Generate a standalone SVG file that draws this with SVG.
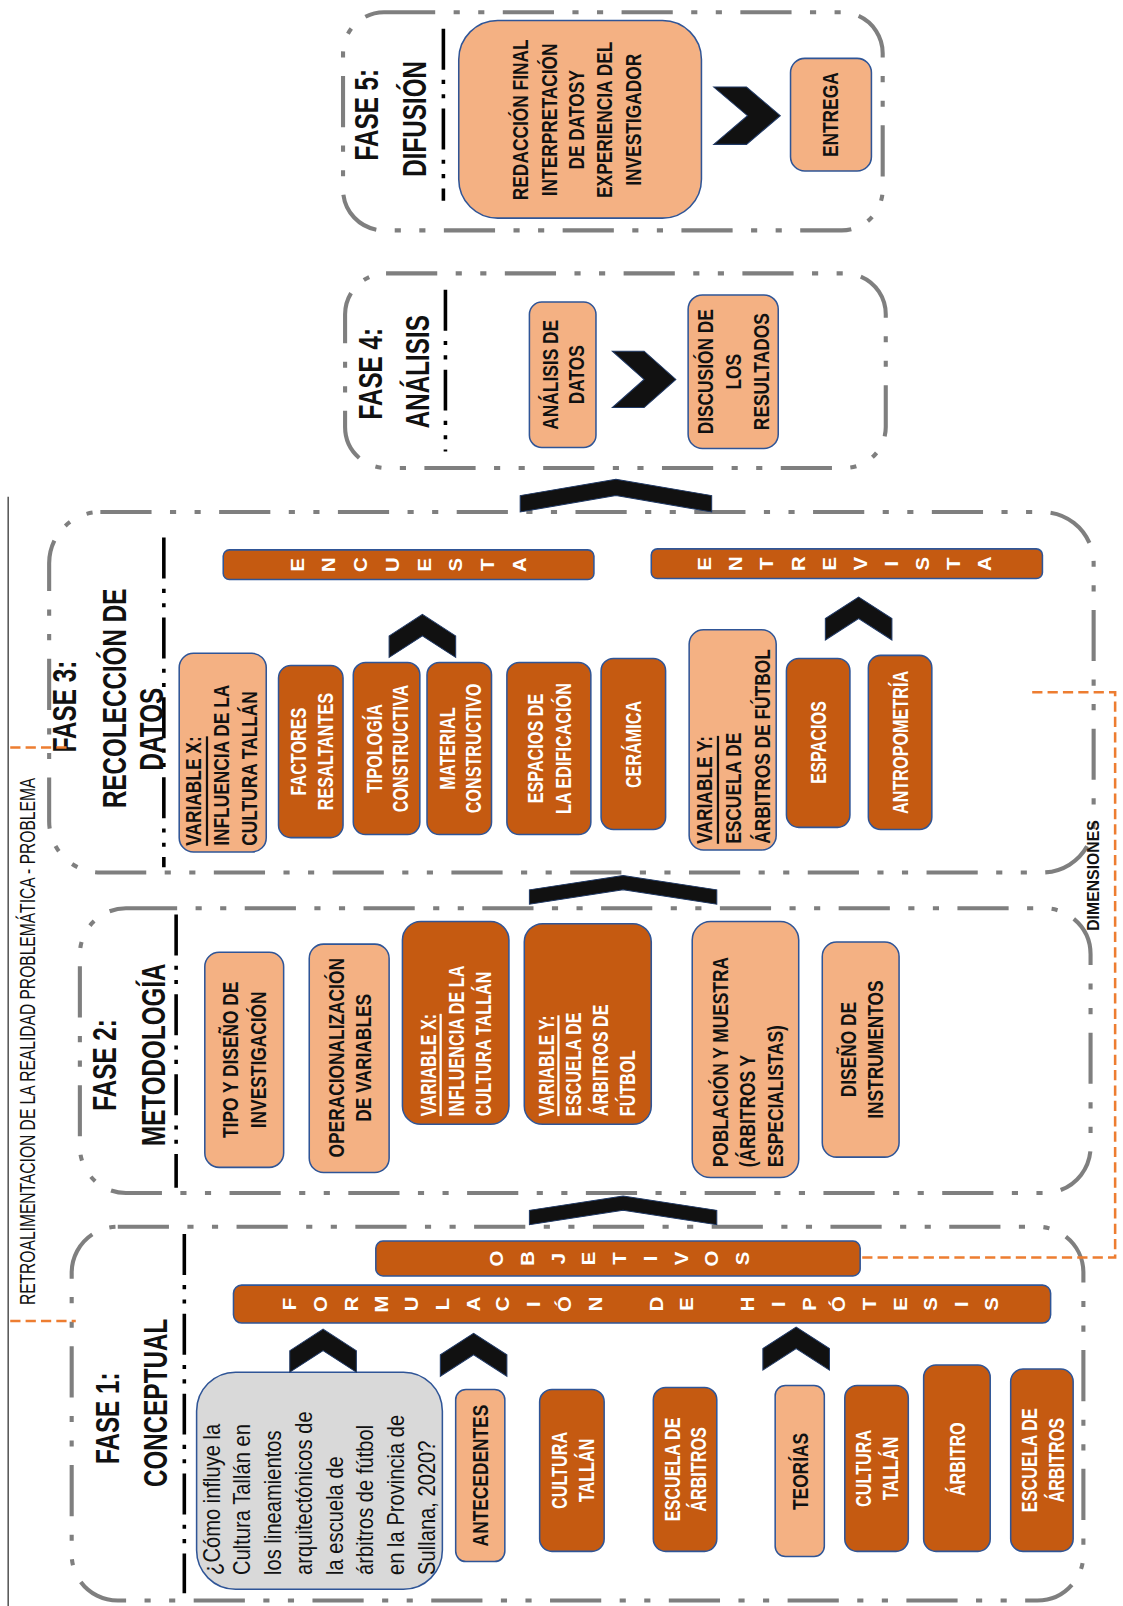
<svg xmlns="http://www.w3.org/2000/svg" width="1123" height="1606" viewBox="0 0 1123 1606">
<style>
text{font-family:"Liberation Sans",Arial,sans-serif}
.frame{fill:none;stroke:#7f7f7f;stroke-width:4;stroke-dasharray:50 18 6 18 6 18}
.div{fill:none;stroke:#000;stroke-width:3.5;stroke-dasharray:40 10 4 10 4 10}
.dk{fill:#C55A11;stroke:#2F5597;stroke-width:1.5}
.lt{fill:#F4B183;stroke:#2F5597;stroke-width:1.5}
.gy{fill:#D9D9D9;stroke:#2F5597;stroke-width:1.5}
.chev{fill:#111;stroke:#1F3864;stroke-width:1}
.od{fill:none;stroke:#ED7D31;stroke-width:2.5;stroke-dasharray:10 5}
.c{text-anchor:middle;dominant-baseline:central}
.s{text-anchor:start;dominant-baseline:central}
.lw{font-size:22px;fill:#fff;font-weight:bold}
.lb{font-size:22px;fill:#111;font-weight:bold}
.tt{font-size:32px;font-weight:bold;fill:#111}
.q{font-size:24px;fill:#111}
.ch{font-size:18px;fill:#fff;font-weight:bold}
.u{text-decoration:underline}
</style>
<g transform="scale(1.024)">

<g id="retroalimentacion">
<line x1="8" y1="485" x2="8" y2="1570" stroke="#555" stroke-width="1.5"/>
<text class="c" font-size="21" fill="#111" textLength="515" lengthAdjust="spacingAndGlyphs" transform="translate(27,1017) rotate(-90)">RETROALIMENTACION DE LA REALIDAD PROBLEMÁTICA - PROBLEMA</text>
</g>

<g id="fase5">
<rect class="frame" x="335" y="12" width="527" height="213" rx="40"/>
<line class="div" x1="433" y1="28" x2="433" y2="196"/>
<text class="tt c" transform="translate(358,112) rotate(-90) scale(.74,1)">FASE 5:</text>
<text class="tt c" transform="translate(405,116) rotate(-90) scale(.74,1)">DIFUSIÓN</text>
</g>
<g id="redaccion">
<rect class="lt" x="448" y="20" width="237" height="193" rx="38"/>
<text class="lb c" transform="translate(563,117) rotate(-90) scale(.77,1)"><tspan x="0" y="-55">REDACCIÓN FINAL</tspan><tspan x="0" y="-27">INTERPRETACIÓN</tspan><tspan x="0" y="0">DE DATOSY</tspan><tspan x="0" y="27">EXPERIENCIA DEL</tspan><tspan x="0" y="55">INVESTIGADOR</tspan></text>
</g>
<g id="entrega">
<rect class="lt" x="772" y="57" width="79" height="110" rx="14"/>
<text class="lb c" transform="translate(811,112) rotate(-90) scale(.77,1)">ENTREGA</text>
</g>

<g id="fase4">
<rect class="frame" x="337" y="267" width="528" height="190" rx="40"/>
<line class="div" x1="435" y1="283" x2="435" y2="441"/>
<text class="tt c" transform="translate(362,365) rotate(-90) scale(.74,1)">FASE 4:</text>
<text class="tt c" transform="translate(408,363) rotate(-90) scale(.74,1)">ANÁLISIS</text>
</g>
<g id="analisis">
<rect class="lt" x="517" y="295" width="65" height="142" rx="12"/>
<text class="lb c" transform="translate(550,366) rotate(-90) scale(.77,1)"><tspan x="0" y="-12.5">ANÁLISIS DE</tspan><tspan x="0" y="12.5">DATOS</tspan></text>
</g>
<g id="discusion">
<rect class="lt" x="672" y="288" width="88" height="150" rx="14"/>
<text class="lb c" transform="translate(716,363) rotate(-90) scale(.77,1)"><tspan x="0" y="-27">DISCUSIÓN DE</tspan><tspan x="0" y="0">LOS</tspan><tspan x="0" y="27">RESULTADOS</tspan></text>
</g>

<g id="fase3">
<rect class="frame" x="48" y="500" width="1020" height="352" rx="50"/>
<line class="div" x1="160" y1="525" x2="160" y2="847"/>
<text class="tt c" transform="translate(63,690) rotate(-90) scale(.74,1)">FASE 3:</text>
<text class="tt c" transform="translate(112,682) rotate(-90) scale(.74,1)">RECOLECCIÓN DE</text>
<text class="tt c" transform="translate(148,712) rotate(-90) scale(.74,1)">DATOS</text>
</g>
<g id="encuesta">
<rect class="dk" x="218" y="537" width="362" height="29" rx="6"/>
<text class="ch c" transform="translate(290,551.5) rotate(-90) scale(1.1,1)">E</text>
<text class="ch c" transform="translate(321,551.5) rotate(-90) scale(1.1,1)">N</text>
<text class="ch c" transform="translate(352,551.5) rotate(-90) scale(1.1,1)">C</text>
<text class="ch c" transform="translate(383,551.5) rotate(-90) scale(1.1,1)">U</text>
<text class="ch c" transform="translate(414,551.5) rotate(-90) scale(1.1,1)">E</text>
<text class="ch c" transform="translate(445,551.5) rotate(-90) scale(1.1,1)">S</text>
<text class="ch c" transform="translate(476,551.5) rotate(-90) scale(1.1,1)">T</text>
<text class="ch c" transform="translate(507,551.5) rotate(-90) scale(1.1,1)">A</text>
</g>
<g id="entrevista">
<rect class="dk" x="636" y="536" width="382" height="29" rx="6"/>
<text class="ch c" transform="translate(688,550.5) rotate(-90) scale(1.1,1)">E</text>
<text class="ch c" transform="translate(718.4,550.5) rotate(-90) scale(1.1,1)">N</text>
<text class="ch c" transform="translate(748.8,550.5) rotate(-90) scale(1.1,1)">T</text>
<text class="ch c" transform="translate(779.2,550.5) rotate(-90) scale(1.1,1)">R</text>
<text class="ch c" transform="translate(809.6,550.5) rotate(-90) scale(1.1,1)">E</text>
<text class="ch c" transform="translate(840,550.5) rotate(-90) scale(1.1,1)">V</text>
<text class="ch c" transform="translate(870.4,550.5) rotate(-90) scale(1.1,1)">I</text>
<text class="ch c" transform="translate(900.8,550.5) rotate(-90) scale(1.1,1)">S</text>
<text class="ch c" transform="translate(931.2,550.5) rotate(-90) scale(1.1,1)">T</text>
<text class="ch c" transform="translate(961.6,550.5) rotate(-90) scale(1.1,1)">A</text>
</g>
<g id="f3-variable-x">
<rect class="lt" x="175" y="638" width="85" height="194" rx="14"/>
<text class="lb s" transform="translate(216,826) rotate(-90) scale(.77,1)"><tspan class="u" x="0" y="-27">VARIABLE X:</tspan><tspan x="0" y="0">INFLUENCIA DE LA</tspan><tspan x="0" y="27">CULTURA TALLÁN</tspan></text>
</g>
<g id="f3-factores">
<rect class="dk" x="272" y="650" width="63" height="168" rx="12"/>
<text class="lw c" transform="translate(304,734) rotate(-90) scale(.72,1)"><tspan x="0" y="-13">FACTORES</tspan><tspan x="0" y="13">RESALTANTES</tspan></text>
</g>
<g id="f3-tipologia">
<rect class="dk" x="345" y="647" width="65" height="168" rx="12"/>
<text class="lw c" transform="translate(378,731) rotate(-90) scale(.72,1)"><tspan x="0" y="-13">TIPOLOGÍA</tspan><tspan x="0" y="13">CONSTRUCTIVA</tspan></text>
</g>
<g id="f3-material">
<rect class="dk" x="417" y="647" width="63" height="168" rx="12"/>
<text class="lw c" transform="translate(449,731) rotate(-90) scale(.72,1)"><tspan x="0" y="-13">MATERIAL</tspan><tspan x="0" y="13">CONSTRUCTIVO</tspan></text>
</g>
<g id="f3-espacios-edificacion">
<rect class="dk" x="495" y="647" width="82" height="168" rx="12"/>
<text class="lw c" transform="translate(536,731) rotate(-90) scale(.72,1)"><tspan x="0" y="-13.5">ESPACIOS DE</tspan><tspan x="0" y="13.5">LA EDIFICACIÓN</tspan></text>
</g>
<g id="f3-ceramica">
<rect class="dk" x="587" y="643" width="63" height="167" rx="12"/>
<text class="lw c" transform="translate(618,727) rotate(-90) scale(.72,1)">CERÁMICA</text>
</g>
<g id="f3-variable-y">
<rect class="lt" x="673" y="615" width="85" height="215" rx="14"/>
<text class="lb s" transform="translate(716,824) rotate(-90) scale(.77,1)"><tspan class="u" x="0" y="-28">VARIABLE Y:</tspan><tspan x="0" y="0">ESCUELA DE</tspan><tspan x="0" y="28">ÁRBITROS DE FÚTBOL</tspan></text>
</g>
<g id="f3-espacios">
<rect class="dk" x="768" y="643" width="62" height="165" rx="12"/>
<text class="lw c" transform="translate(799,725) rotate(-90) scale(.72,1)">ESPACIOS</text>
</g>
<g id="f3-antropometria">
<rect class="dk" x="848" y="640" width="62" height="170" rx="12"/>
<text class="lw c" transform="translate(879,725) rotate(-90) scale(.72,1)">ANTROPOMETRÍA</text>
</g>

<g id="fase2">
<rect class="frame" x="78" y="887" width="987" height="278" rx="45"/>
<line class="div" x1="172" y1="893" x2="172" y2="1160"/>
<text class="tt c" transform="translate(102,1040) rotate(-90) scale(.74,1)">FASE 2:</text>
<text class="tt c" transform="translate(150,1030) rotate(-90) scale(.74,1)">METODOLOGÍA</text>
</g>
<g id="f2-tipo">
<rect class="lt" x="200" y="930" width="77" height="210" rx="14"/>
<text class="lb c" transform="translate(238.5,1035) rotate(-90) scale(.77,1)"><tspan x="0" y="-13.5">TIPO Y DISEÑO DE</tspan><tspan x="0" y="13.5">INVESTIGACIÓN</tspan></text>
</g>
<g id="f2-operacionalizacion">
<rect class="lt" x="302" y="922" width="78" height="223" rx="14"/>
<text class="lb c" transform="translate(341.5,1033) rotate(-90) scale(.77,1)"><tspan x="0" y="-13.5">OPERACIONALIZACIÓN</tspan><tspan x="0" y="13.5">DE VARIABLES</tspan></text>
</g>
<g id="f2-variable-x">
<rect class="dk" x="393" y="900" width="104" height="198" rx="18"/>
<text class="lw s" transform="translate(445,1090) rotate(-90) scale(.72,1)"><tspan class="u" x="0" y="-27">VARIABLE X:</tspan><tspan x="0" y="0">INFLUENCIA DE LA</tspan><tspan x="0" y="27">CULTURA TALLÁN</tspan></text>
</g>
<g id="f2-variable-y">
<rect class="dk" x="512" y="902" width="124" height="196" rx="18"/>
<text class="lw s" transform="translate(572.5,1090) rotate(-90) scale(.72,1)"><tspan class="u" x="0" y="-39.5">VARIABLE Y:</tspan><tspan x="0" y="-13">ESCUELA DE</tspan><tspan x="0" y="13">ÁRBITROS DE</tspan><tspan x="0" y="39.5">FÚTBOL</tspan></text>
</g>
<g id="f2-poblacion">
<rect class="lt" x="676" y="900" width="104" height="250" rx="18"/>
<text class="lb s" transform="translate(730,1140) rotate(-90) scale(.77,1)"><tspan x="0" y="-27">POBLACIÓN Y MUESTRA</tspan><tspan x="0" y="0">(ÁRBITROS Y</tspan><tspan x="0" y="27">ESPECIALISTAS)</tspan></text>
</g>
<g id="f2-diseno">
<rect class="lt" x="803" y="920" width="75" height="210" rx="14"/>
<text class="lb c" transform="translate(841.5,1025) rotate(-90) scale(.77,1)"><tspan x="0" y="-13.5">DISEÑO DE</tspan><tspan x="0" y="13.5">INSTRUMENTOS</tspan></text>
</g>

<g id="fase1">
<rect class="frame" x="70" y="1198" width="988" height="365" rx="45"/>
<line class="div" x1="180" y1="1205" x2="180" y2="1556"/>
<text class="tt c" transform="translate(105,1385) rotate(-90) scale(.74,1)">FASE 1:</text>
<text class="tt c" transform="translate(152,1370) rotate(-90) scale(.74,1)">CONCEPTUAL</text>
</g>
<g id="objetivos">
<rect class="dk" x="367" y="1212" width="473" height="34" rx="7"/>
<text class="ch c" transform="translate(485,1229) rotate(-90) scale(1.1,1)">O</text>
<text class="ch c" transform="translate(515,1229) rotate(-90) scale(1.1,1)">B</text>
<text class="ch c" transform="translate(545,1229) rotate(-90) scale(1.1,1)">J</text>
<text class="ch c" transform="translate(575,1229) rotate(-90) scale(1.1,1)">E</text>
<text class="ch c" transform="translate(605,1229) rotate(-90) scale(1.1,1)">T</text>
<text class="ch c" transform="translate(635,1229) rotate(-90) scale(1.1,1)">I</text>
<text class="ch c" transform="translate(665,1229) rotate(-90) scale(1.1,1)">V</text>
<text class="ch c" transform="translate(695,1229) rotate(-90) scale(1.1,1)">O</text>
<text class="ch c" transform="translate(725,1229) rotate(-90) scale(1.1,1)">S</text>
</g>
<g id="formulacion">
<rect class="dk" x="228" y="1255" width="798" height="37" rx="8"/>
<text class="ch c" transform="translate(283,1273.5) rotate(-90) scale(1.1,1)">F</text>
<text class="ch c" transform="translate(313,1273.5) rotate(-90) scale(1.1,1)">O</text>
<text class="ch c" transform="translate(343,1273.5) rotate(-90) scale(1.1,1)">R</text>
<text class="ch c" transform="translate(372,1273.5) rotate(-90) scale(1.1,1)">M</text>
<text class="ch c" transform="translate(402,1273.5) rotate(-90) scale(1.1,1)">U</text>
<text class="ch c" transform="translate(432,1273.5) rotate(-90) scale(1.1,1)">L</text>
<text class="ch c" transform="translate(462,1273.5) rotate(-90) scale(1.1,1)">A</text>
<text class="ch c" transform="translate(491,1273.5) rotate(-90) scale(1.1,1)">C</text>
<text class="ch c" transform="translate(521,1273.5) rotate(-90) scale(1.1,1)">I</text>
<text class="ch c" transform="translate(551,1273.5) rotate(-90) scale(1.1,1)">Ó</text>
<text class="ch c" transform="translate(581,1273.5) rotate(-90) scale(1.1,1)">N</text>
<text class="ch c" transform="translate(641,1273.5) rotate(-90) scale(1.1,1)">D</text>
<text class="ch c" transform="translate(670,1273.5) rotate(-90) scale(1.1,1)">E</text>
<text class="ch c" transform="translate(730,1273.5) rotate(-90) scale(1.1,1)">H</text>
<text class="ch c" transform="translate(760,1273.5) rotate(-90) scale(1.1,1)">I</text>
<text class="ch c" transform="translate(790,1273.5) rotate(-90) scale(1.1,1)">P</text>
<text class="ch c" transform="translate(819,1273.5) rotate(-90) scale(1.1,1)">Ó</text>
<text class="ch c" transform="translate(849,1273.5) rotate(-90) scale(1.1,1)">T</text>
<text class="ch c" transform="translate(879,1273.5) rotate(-90) scale(1.1,1)">E</text>
<text class="ch c" transform="translate(909,1273.5) rotate(-90) scale(1.1,1)">S</text>
<text class="ch c" transform="translate(939,1273.5) rotate(-90) scale(1.1,1)">I</text>
<text class="ch c" transform="translate(968,1273.5) rotate(-90) scale(1.1,1)">S</text>
</g>
<g id="pregunta">
<rect class="gy" x="192" y="1340" width="240" height="212" rx="38"/>
<text class="q s" transform="translate(311,1538) rotate(-90) scale(.82,1)"><tspan x="0" y="-105">¿Cómo influye la</tspan><tspan x="0" y="-75">Cultura Tallán en</tspan><tspan x="0" y="-45">los lineamientos</tspan><tspan x="0" y="-15">arquitectónicos de</tspan><tspan x="0" y="15">la escuela de</tspan><tspan x="0" y="45">árbitros de fútbol</tspan><tspan x="0" y="75">en la Provincia de</tspan><tspan x="0" y="105">Sullana, 2020?</tspan></text>
</g>
<g id="antecedentes">
<rect class="lt" x="445" y="1357" width="48" height="168" rx="10"/>
<text class="lb c" transform="translate(469,1441) rotate(-90) scale(.77,1)">ANTECEDENTES</text>
</g>
<g id="f1-cultura-1">
<rect class="dk" x="527" y="1357" width="63" height="158" rx="12"/>
<text class="lw c" transform="translate(559,1436) rotate(-90) scale(.72,1)"><tspan x="0" y="-13">CULTURA</tspan><tspan x="0" y="13">TALLÁN</tspan></text>
</g>
<g id="f1-escuela-1">
<rect class="dk" x="638" y="1355" width="62" height="160" rx="12"/>
<text class="lw c" transform="translate(669,1435) rotate(-90) scale(.72,1)"><tspan x="0" y="-13">ESCUELA DE</tspan><tspan x="0" y="13">ÁRBITROS</tspan></text>
</g>
<g id="teorias">
<rect class="lt" x="757" y="1353" width="48" height="167" rx="10"/>
<text class="lb c" transform="translate(781,1437) rotate(-90) scale(.77,1)">TEORÍAS</text>
</g>
<g id="f1-cultura-2">
<rect class="dk" x="825" y="1353" width="62" height="162" rx="12"/>
<text class="lw c" transform="translate(856,1434) rotate(-90) scale(.72,1)"><tspan x="0" y="-13">CULTURA</tspan><tspan x="0" y="13">TALLÁN</tspan></text>
</g>
<g id="f1-arbitro">
<rect class="dk" x="902" y="1333" width="65" height="182" rx="12"/>
<text class="lw c" transform="translate(934.5,1425) rotate(-90) scale(.72,1)">ÁRBITRO</text>
</g>
<g id="f1-escuela-2">
<rect class="dk" x="987" y="1337" width="61" height="178" rx="12"/>
<text class="lw c" transform="translate(1018,1426) rotate(-90) scale(.72,1)"><tspan x="0" y="-13">ESCUELA DE</tspan><tspan x="0" y="13">ÁRBITROS</tspan></text>
</g>

<g id="dimensiones">
<text class="c" font-size="17" font-weight="bold" fill="#111" textLength="108" lengthAdjust="spacingAndGlyphs" transform="translate(1067,855) rotate(-90)">DIMENSIONES</text>
</g>

<g id="connectors">
<polygon class="chev" points="697,85 729,85 762,113 729,141 697,141 730,113"/>
<polygon class="chev" points="598,343 629,343 660,370.5 629,398 598,398 629,370.5"/>
<polygon class="chev" points="508,500 508,484 601.5,468 695,484 695,500 601.5,484"/>
<polygon class="chev" points="517,883 517,869 608.5,855 700,869 700,883 608.5,869"/>
<polygon class="chev" points="517,1196 517,1182 608.5,1168 700,1182 700,1196 608.5,1182"/>
<polygon class="chev" points="380,642 380,621 412.5,600 445,621 445,642 412.5,621"/>
<polygon class="chev" points="806,625 806,604 838.5,583 871,604 871,625 838.5,604"/>
<polygon class="chev" points="283,1340 283,1319 315.5,1298 348,1319 348,1340 315.5,1319"/>
<polygon class="chev" points="430,1344 430,1323 462.5,1302 495,1323 495,1344 462.5,1323"/>
<polygon class="chev" points="745,1338 745,1317 777.5,1296 810,1317 810,1338 777.5,1317"/>
<path class="od" d="M1008,676 H1089 V1228 H840"/>
<line class="od" x1="10" y1="730" x2="70" y2="730"/>
<line class="od" x1="10" y1="1290" x2="74" y2="1290"/>
</g>
</g>
</svg>
